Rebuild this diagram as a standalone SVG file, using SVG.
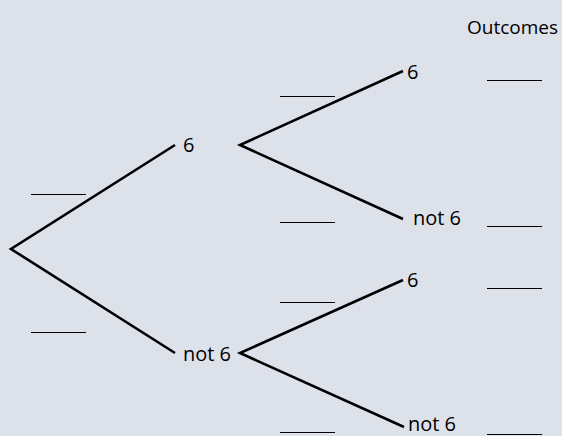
<svg xmlns="http://www.w3.org/2000/svg" width="562" height="436" viewBox="0 0 562 436">
<style>
.br{stroke:#000;stroke-width:2.6;fill:none;stroke-linejoin:miter;stroke-linecap:butt}
.bl{stroke:#000;stroke-width:1.2;fill:none}
text{font-family:"Open Sans","Liberation Sans",sans-serif;font-size:20px;fill:#000}
</style>
<rect width="562" height="436" fill="#dde1ea"/>
<g id="connectors">
<polyline class="br" points="175,145 11,249 175,353"/>
<polyline class="br" points="403,71 240,145 403,219"/>
<polyline class="br" points="403,280 240,353 404,427"/>
</g>
<g id="blanks">
<line class="bl" x1="31" y1="194.5" x2="86" y2="194.5"/>
<line class="bl" x1="31" y1="332.5" x2="86" y2="332.5"/>
<line class="bl" x1="280" y1="96.5" x2="335" y2="96.5"/>
<line class="bl" x1="280" y1="222.5" x2="335" y2="222.5"/>
<line class="bl" x1="280" y1="302.5" x2="335" y2="302.5"/>
<line class="bl" x1="280" y1="432.5" x2="335" y2="432.5"/>
<line class="bl" x1="487" y1="80.5" x2="542" y2="80.5"/>
<line class="bl" x1="487" y1="226.5" x2="542" y2="226.5"/>
<line class="bl" x1="487" y1="288.5" x2="542" y2="288.5"/>
<line class="bl" x1="487" y1="434.5" x2="542" y2="434.5"/>
</g>
<g id="title"><text x="467" y="34" style="font-size:19px">Outcomes</text></g>
<g id="n-6"><text x="183" y="152">6</text></g>
<g id="n-not6"><text x="183" y="361">not 6</text></g>
<g id="n-6-6"><text x="407" y="79">6</text></g>
<g id="n-6-not6"><text x="413" y="225">not 6</text></g>
<g id="n-not6-6"><text x="407" y="287">6</text></g>
<g id="n-not6-not6"><text x="408" y="431">not 6</text></g>
</svg>
